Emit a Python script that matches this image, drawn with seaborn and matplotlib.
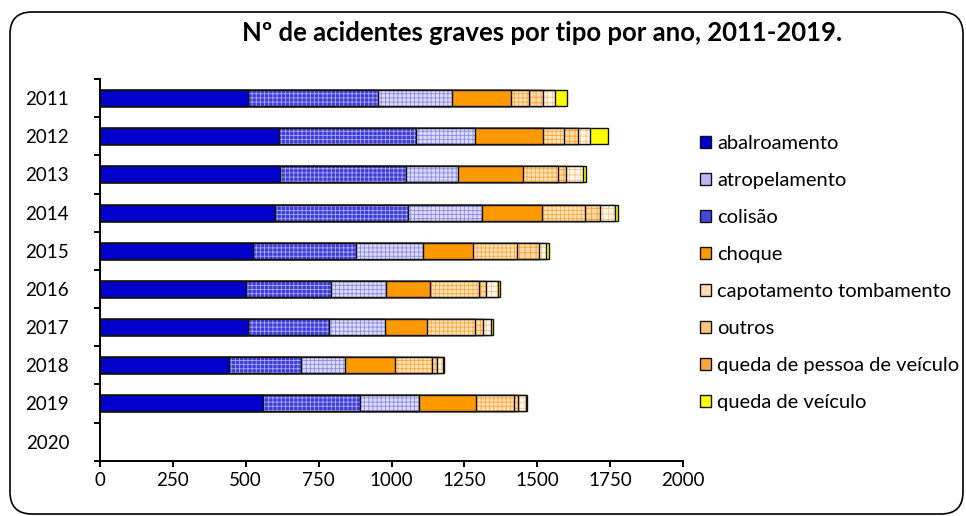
import numpy as np
import pandas as pd
import matplotlib
matplotlib.use("Agg")
import matplotlib.pyplot as plt
import seaborn as sns
from matplotlib.patches import FancyBboxPatch, Patch
from matplotlib.ticker import FixedLocator
from matplotlib.transforms import IdentityTransform

# ---------------- data ----------------
years = ["2011", "2012", "2013", "2014", "2015", "2016", "2017", "2018", "2019", "2020"]
data_years = years[:9]
abalroamento = [507, 613, 619, 602, 524, 502, 507, 442, 558]
colisao = [445, 472, 431, 455, 353, 291, 280, 247, 333]
atropelamento = [255, 201, 177, 253, 232, 189, 192, 150, 204]
choque = [201, 232, 223, 206, 170, 149, 143, 172, 194]
capotamento = [62, 72, 119, 147, 152, 170, 163, 127, 129]
outros = [48, 49, 30, 53, 73, 23, 30, 18, 15]
queda_pessoa = [43, 42, 58, 51, 27, 41, 27, 19, 27]
queda_veiculo = [42, 62, 8, 8, 8, 8, 7, 5, 3]

legend_labels = ["abalroamento", "atropelamento", "colisão", "choque",
                 "capotamento tombamento", "outros", "queda de pessoa de veículo",
                 "queda de veículo"]
title = "Nº de acidentes graves por tipo por ano, 2011-2019."

# stacking order as seen in the bars: (values, face, hatch colour, hatch)
stack = [
    (abalroamento, "#0000CC", None, None),
    (colisao, "#3C3CD8", "#A8A8F2", "++++"),
    (atropelamento, "#DCDCFA", "#8C8CE4", "++++"),
    (choque, "#FF9900", None, None),
    (capotamento, "#FFE2B8", "#FFA83C", "++++"),
    (outros, "#FFD9A6", "#FFA032", "+++"),
    (queda_pessoa, "#FFF8EE", "#FFC27A", "+++"),
    (queda_veiculo, "#FFFF00", None, None),
]
legend_faces = ["#0000CC", "#B8B8F0", "#4646DA", "#FF9900",
                "#FFDDB0", "#FFC57A", "#FFA640", "#FFFF00"]

# ---------------- style ----------------
sns.set_theme(style="white")
plt.rcParams["font.family"] = ["Lato", "DejaVu Sans"]
plt.rcParams["hatch.linewidth"] = 0.6

fig = plt.figure(figsize=(9.66, 5.16), dpi=100)
ax = fig.add_axes([0.1032, 0.1072, 0.6042, 0.7397])

cum = np.cumsum(np.array([s[0] for s in stack]), axis=0)

for i in range(len(stack) - 1, -1, -1):
    vals, face, hcol, hatch = stack[i]
    d = pd.DataFrame({"ano": data_years, "total": cum[i]})
    sns.barplot(data=d, x="total", y="ano", order=years, orient="h",
                color=face, saturation=1, errorbar=None, width=0.42,
                edgecolor=(hcol if hcol else face), linewidth=0,
                hatch=hatch, ax=ax)
    sns.barplot(data=d, x="total", y="ano", order=years, orient="h",
                color="black", saturation=1, errorbar=None, width=0.42,
                fill=False, edgecolor="#111111", linewidth=1.0, ax=ax)

ax.set_xlim(0, 2000)
ax.set_xticks(np.arange(0, 2001, 250))
ax.set_xlabel("")
ax.set_ylabel("")
ax.set_ylim(9.5, -0.5)
ax.yaxis.set_minor_locator(FixedLocator(np.arange(-0.5, 10, 1)))

for side in ["top", "right"]:
    ax.spines[side].set_visible(False)
for side in ["left", "bottom"]:
    ax.spines[side].set_color("black")
    ax.spines[side].set_linewidth(1.4)

ax.tick_params(axis="x", which="major", direction="out", length=4.3, width=1.4,
               color="black", labelsize=13.5, pad=4, bottom=True)
ax.tick_params(axis="y", which="major", length=0, labelsize=13.5, pad=22)
ax.tick_params(axis="y", which="minor", direction="out", length=4.3, width=1.4,
               color="black", left=True)
for lab in ax.get_xticklabels() + ax.get_yticklabels():
    lab.set_color("black")

# legend
handles = [Patch(facecolor=c, edgecolor="#111111", linewidth=1.0) for c in legend_faces]
fig.legend(handles, legend_labels, loc="upper left", bbox_to_anchor=(0.7246, 0.738),
           bbox_transform=fig.transFigure, frameon=False, fontsize=14.5,
           handlelength=0.55, handleheight=0.55, handletextpad=0.3,
           labelspacing=0.99, borderpad=0, borderaxespad=0, labelcolor="black")

# title
fig.text(0.561, 0.936, title, ha="center", va="center", fontsize=18.5,
         fontweight="bold", color="black")

# rounded frame around the chart
frame = FancyBboxPatch((10, 2), 953, 502, boxstyle="round,pad=0,rounding_size=22",
                       transform=IdentityTransform(), facecolor="none",
                       edgecolor="black", linewidth=1.2)
fig.add_artist(frame)

fig.savefig("out.png", dpi=100, facecolor="white")
